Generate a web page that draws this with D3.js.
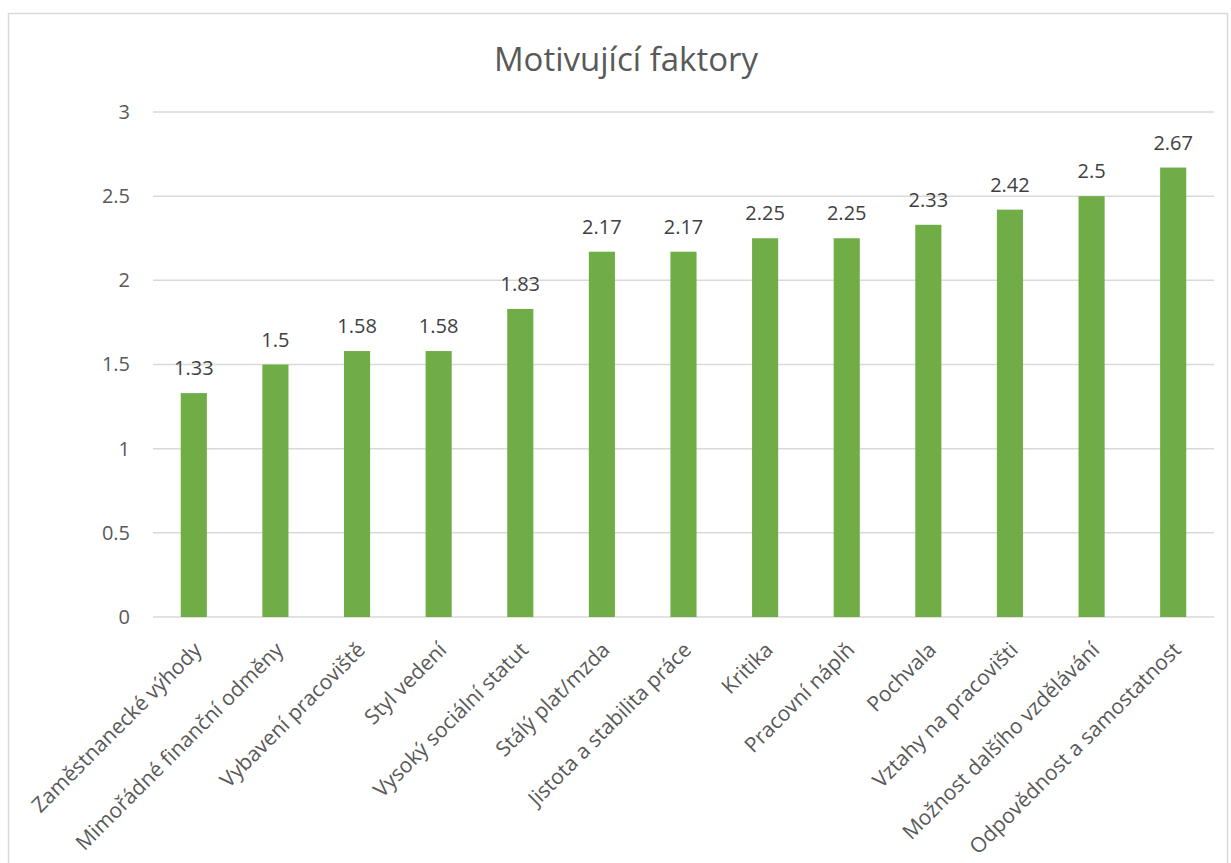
<!DOCTYPE html>
<html>
<head>
<meta charset="utf-8">
<script src="https://cdn.jsdelivr.net/npm/d3@7"></script>
<style>
  body { margin: 0; background: #fff; }
  text { font-family: "Open Sans", "Noto Sans", sans-serif; }
</style>
</head>
<body>
<div id="chart"></div>
<script>
// Data
const categories = [
  "Zaměstnanecké výhody", "Mimořádné finanční odměny", "Vybavení pracoviště",
  "Styl vedení", "Vysoký sociální statut", "Stálý plat/mzda",
  "Jistota a stabilita práce", "Kritika", "Pracovní náplň", "Pochvala",
  "Vztahy na pracovišti", "Možnost dalšího vzdělávání", "Odpovědnost a samostatnost"
];
const values = [1.33, 1.5, 1.58, 1.58, 1.83, 2.17, 2.17, 2.25, 2.25, 2.33, 2.42, 2.5, 2.67];
const yTicks = [0, 0.5, 1, 1.5, 2, 2.5, 3];

const W = 1231, H = 863;
const margin = { top: 112, right: 17, bottom: 246, left: 153 };
const width = W - margin.left - margin.right;
const height = H - margin.top - margin.bottom;

const svg = d3.select("#chart").append("svg")
  .attr("width", W).attr("height", H);

// Outer chart border
svg.append("rect")
  .attr("x", 8.5).attr("y", 13.5)
  .attr("width", W - 12).attr("height", H + 20)
  .attr("fill", "none").attr("stroke", "#d9d9d9").attr("stroke-width", 1.5);

svg.append("text")
  .attr("x", 626).attr("y", 71)
  .attr("text-anchor", "middle")
  .attr("font-size", 33)
  .attr("fill", "#595959")
  .text("Motivující faktory");

const g = svg.append("g").attr("transform", `translate(${margin.left},${margin.top})`);

const x = d3.scaleBand().domain(categories).range([0, width]).paddingInner(0.68).paddingOuter(0.34);
const y = d3.scaleLinear().domain([0, 3]).range([height, 0]);

// Gridlines
g.selectAll(".grid")
  .data(yTicks)
  .join("line")
  .attr("x1", 0).attr("x2", width)
  .attr("y1", d => y(d)).attr("y2", d => y(d))
  .attr("stroke", "#d9d9d9").attr("stroke-width", 1.5);

// Y axis labels
const yAxis = g.append("g").call(d3.axisLeft(y).tickValues(yTicks).tickSize(0).tickPadding(23).tickFormat(d3.format("")));
yAxis.select(".domain").remove();
yAxis.selectAll("text").attr("font-size", 20).attr("fill", "#595959")
  .attr("font-family", "'Open Sans', sans-serif");

// Bars
g.selectAll(".bar")
  .data(values)
  .join("rect")
  .attr("class", "bar")
  .attr("x", (d, i) => x(categories[i]))
  .attr("y", d => y(d))
  .attr("width", x.bandwidth())
  .attr("height", d => y(0) - y(d))
  .attr("fill", "#70ad47");

// Data labels
g.selectAll(".lbl")
  .data(values)
  .join("text")
  .attr("x", (d, i) => x(categories[i]) + x.bandwidth() / 2)
  .attr("y", d => y(d) - 18)
  .attr("text-anchor", "middle")
  .attr("font-size", 20)
  .attr("fill", "#404040")
  .text(d => d);

// X axis
const xAxis = g.append("g").attr("transform", `translate(0,${height})`)
  .call(d3.axisBottom(x).tickSize(0).tickPadding(0));
xAxis.select(".domain").remove();
xAxis.selectAll("text")
  .attr("font-size", 21)
  .attr("fill", "#595959")
  .attr("font-family", "'Open Sans', sans-serif")
  .attr("text-anchor", "end")
  .attr("dy", "0.35em")
  .attr("transform", "translate(4,29) rotate(-45)");
</script>
</body>
</html>
